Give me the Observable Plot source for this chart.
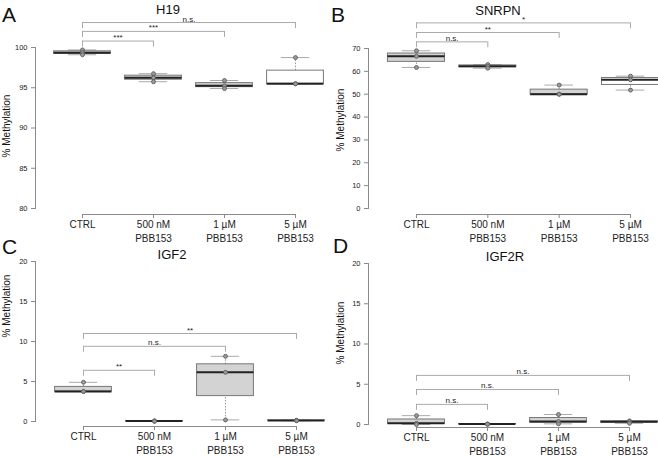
<!DOCTYPE html>
<html><head><meta charset="utf-8">
<script src="https://cdn.jsdelivr.net/npm/d3@7"></script>
<script src="https://cdn.jsdelivr.net/npm/@observablehq/plot@0.6"></script>
<style>
body{margin:0;background:#fff;}
#root{position:relative;width:658px;height:457px;overflow:hidden;background:#fff;font-family:"Liberation Sans",Arial,sans-serif;}
#root > svg{position:absolute;}
</style></head><body><div id="root"></div>
<script>
// ---- data ----
const groups = ["CTRL", "500 nM\nPBB153", "1 µM\nPBB153", "5 µM\nPBB153"];

// replicate values (% methylation) per group
const h19Values   = [[99.7, 99.35, 99.1], [96.75, 96.25, 95.75], [95.9, 95.25, 94.9], [98.75, 95.5, 95.5]];
const snrpnValues = [[69.0, 66.6, 61.7], [63.0, 62.2, 61.4], [54.0, 50.0, 50.0], [57.9, 56.3, 51.8]];
const igf2Values  = [[4.9, 3.75, 3.75], [0.08, 0.05, 0.02], [8.15, 6.15, 0.2], [0.15, 0.12, 0.1]];
const igf2rValues = [[1.1, 0.15, 0.0], [0.06, 0.05, 0.04], [1.24, 0.37, 0.08], [0.45, 0.35, 0.15]];

// box fills
const h19Fill   = ["lightgray", "lightgray", "lightgray", "white"];
const snrpnFill = ["lightgray", "lightgray", "lightgray", "white"];
const igf2Fill  = ["lightgray", "lightgray", "lightgray", "lightgray"];
const igf2rFill = ["lightgray", "lightgray", "lightgray", "lightgray"];

// significance brackets CTRL vs each treatment (label, level in data units)
const h19Sig   = ["***", "***", "n.s."];  const h19Levels   = [100.8, 102.0, 103.1];
const snrpnSig = ["n.s.", "**", "*"];     const snrpnLevels = [72.9, 77.0, 81.2];
const igf2Sig  = ["**", "n.s.", "**"];    const igf2Levels  = [6.4, 9.4, 11.0];
const igf2rSig = ["n.s.", "n.s.", "n.s."]; const igf2rLevels = [2.5, 4.35, 6.1];

// y ticks
const h19Ticks   = [80, 85, 90, 95, 100];
const snrpnTicks = [0, 10, 20, 30, 40, 50, 60, 70];
const igf2Ticks  = [0, 5, 10, 15, 20];

const titles  = ["H19", "SNRPN", "IGF2", "IGF2R"];
const letters = ["A", "B", "C", "D"];
const yLabel  = "% Methylation";

// ---- layout ----
const FONT = '"Liberation Sans", Arial, sans-serif';
const AXIS = "#8a8a8a";

function panel(values, fills, sig, levels, ticks, L) {
  const domain = [ticks[0], ticks[ticks.length - 1]];
  const stats = values.map((v, i) => {
    const s = v.slice().sort(d3.ascending);
    return {i, min: s[0], q1: d3.quantile(s, 0.25), median: d3.quantile(s, 0.5),
            q3: d3.quantile(s, 0.75), max: s[s.length - 1], fill: fills[i]};
  });
  const points = values.flatMap((v, i) => v.map(value => ({i, value})));
  const brackets = sig.map((label, k) => ({from: 0, to: k + 1, label, level: levels[k]}));
  const drop = (domain[1] - domain[0]) * 0.037;
  const half = 0.4, cap = 0.2;
  const svg = Plot.plot({
    width: L.w, height: L.h,
    marginTop: L.mt, marginBottom: L.mb, marginLeft: L.ml, marginRight: 0,
    style: {background: "transparent", overflow: "visible", fontFamily: FONT, color: "#222"},
    x: {domain: [-0.5, groups.length - 0.5], range: L.xr, axis: null},
    y: {domain, axis: null},
    color: {type: "identity"},
    marks: [
      Plot.frame({anchor: "left", stroke: AXIS}),
      Plot.axisY({ticks, tickSize: 4, tickPadding: 4, fontSize: 7.5, stroke: AXIS}),
      Plot.ruleY([domain[0]], {x1: 0, x2: groups.length - 1, dy: L.gap, stroke: AXIS}),
      Plot.axisX({ticks: groups.map((_, i) => i), tickFormat: i => groups[i], anchor: "bottom",
                  tickSize: 4, tickPadding: 0, dy: L.gap, fontSize: 10, lineHeight: 1.35, stroke: AXIS}),
      // whiskers
      Plot.ruleX(stats, {x: "i", y1: "q3", y2: "max", stroke: "#999", strokeDasharray: "1.5,1.5"}),
      Plot.ruleX(stats, {x: "i", y1: "min", y2: "q1", stroke: "#999", strokeDasharray: "1.5,1.5"}),
      Plot.ruleY(stats, {y: "max", x1: d => d.i - cap, x2: d => d.i + cap, stroke: "#aaa"}),
      Plot.ruleY(stats, {y: "min", x1: d => d.i - cap, x2: d => d.i + cap, stroke: "#aaa"}),
      // boxes
      Plot.rect(stats, {x1: d => d.i - half, x2: d => d.i + half, y1: "q1", y2: "q3", fill: "fill", stroke: "#777", strokeWidth: 1}),
      Plot.ruleY(stats, {y: "median", x1: d => d.i - half, x2: d => d.i + half, stroke: "#222", strokeWidth: 2}),
      // points
      Plot.dot(points, {x: "i", y: "value", r: 2, fill: "#9a9a9a", stroke: "#555", strokeWidth: 0.8}),
      // brackets
      Plot.ruleY(brackets, {y: "level", x1: "from", x2: "to", stroke: "#aaa"}),
      Plot.ruleX(brackets, {x: "from", y1: "level", y2: d => d.level - drop, stroke: "#aaa"}),
      Plot.ruleX(brackets, {x: "to", y1: "level", y2: d => d.level - drop, stroke: "#aaa"}),
      Plot.text(brackets, {x: d => (d.from + d.to) / 2, y: "level", text: "label", lineAnchor: "bottom", dy: -1, fontSize: 8, fill: "#222"})
    ]
  });
  svg.style.left = L.left + "px";
  svg.style.top = L.top + "px";
  return svg;
}

const root = document.getElementById("root");
root.appendChild(panel(h19Values, h19Fill, h19Sig, h19Levels, h19Ticks,
  {left: 0, top: 0, w: 329, h: 228, mt: 47, mb: 20, ml: 35, xr: [46.5, 330.5], gap: 6}));
root.appendChild(panel(snrpnValues, snrpnFill, snrpnSig, snrpnLevels, snrpnTicks,
  {left: 328, top: 0, w: 330, h: 228, mt: 48, mb: 20, ml: 40, xr: [52.3, 337.7], gap: 6}));
root.appendChild(panel(igf2Values, igf2Fill, igf2Sig, igf2Levels, igf2Ticks,
  {left: 0, top: 228, w: 329, h: 229, mt: 33, mb: 36, ml: 35, xr: [47.5, 331.5], gap: 5}));
root.appendChild(panel(igf2rValues, igf2rFill, igf2rSig, igf2rLevels, igf2Ticks,
  {left: 328, top: 228, w: 330, h: 229, mt: 35, mb: 33, ml: 40, xr: [52.5, 336.5], gap: 3}));

// overlay: panel letters, titles, y labels
const ov = d3.select(root).append("svg").attr("width", 658).attr("height", 457)
  .style("left", "0px").style("top", "0px").style("pointer-events", "none")
  .attr("font-family", FONT);
const letterPos = [[2, 22], [331, 22], [2, 254], [333, 253]];
const titlePos  = [[168, 14], [498, 14.5], [172, 259], [505, 261]];
const ylabPos   = [[10, 126], [344, 120], [10, 306], [344, 333]];
letters.forEach((t, k) => ov.append("text").attr("x", letterPos[k][0]).attr("y", letterPos[k][1])
  .attr("font-size", 21).attr("fill", "#111").text(t));
titles.forEach((t, k) => ov.append("text").attr("x", titlePos[k][0]).attr("y", titlePos[k][1])
  .attr("font-size", 13).attr("text-anchor", "middle").attr("fill", "#111").text(t));
ylabPos.forEach(([x, y]) => ov.append("text").attr("transform", `translate(${x},${y}) rotate(-90)`)
  .attr("font-size", 10).attr("text-anchor", "middle").attr("fill", "#111").text(yLabel));
</script></body></html>
